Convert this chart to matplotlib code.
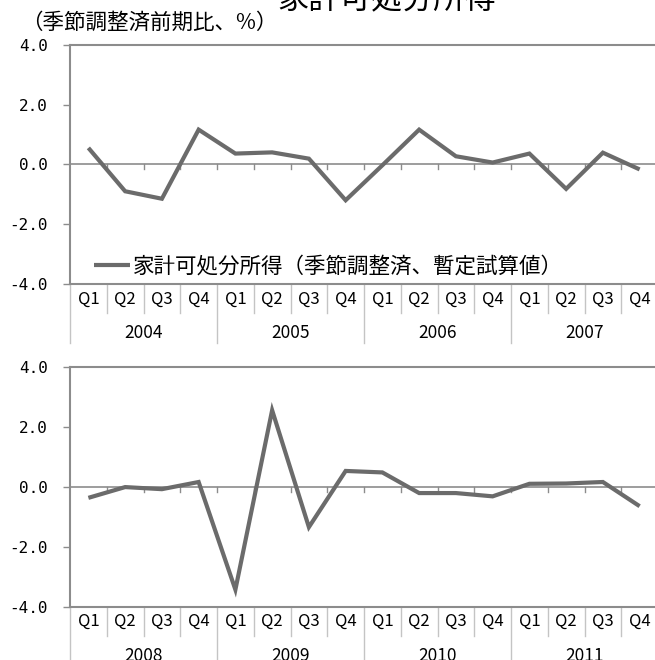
import matplotlib
matplotlib.use("Agg")
import matplotlib.pyplot as plt

plt.rcParams["font.family"] = ["Noto Sans CJK JP", "DejaVu Sans"]
plt.rcParams["axes.unicode_minus"] = False

QUARTERS = ["Q1", "Q2", "Q3", "Q4"]
YEARS_TOP = ["2004", "2005", "2006", "2007"]
YEARS_BOTTOM = ["2008", "2009", "2010", "2011"]

# quarterly change, % (2004Q1 .. 2007Q4)
income_top = [0.55, -0.90, -1.15, 1.16, 0.36, 0.40, 0.19, -1.20,
              -0.03, 1.16, 0.27, 0.06, 0.36, -0.82, 0.39, -0.17]
# 2008Q1 .. 2011Q4
income_bottom = [-0.36, 0.00, -0.07, 0.17, -3.43, 2.57, -1.34, 0.54,
                 0.49, -0.20, -0.20, -0.31, 0.11, 0.12, 0.17, -0.64]

Y_TICKS = [-4.0, -2.0, 0.0, 2.0, 4.0]
LEGEND_LABEL = "家計可処分所得（季節調整済、暫定試算値）"

LINE_COLOR = "#6b6b6b"
AXIS_COLOR = "#8c8c8c"
SEP_COLOR = "#c4c4c4"


def draw_panel(ax, values, years, legend=False):
    xs = [i + 0.5 for i in range(len(values))]
    ax.plot(xs, values, color=LINE_COLOR, lw=3.0, solid_joinstyle="miter",
            solid_capstyle="butt", label=LEGEND_LABEL, zorder=3)
    ax.set_xlim(0, 16)
    ax.set_ylim(-4, 4)

    # zero axis with small category ticks
    ax.axhline(0, color=AXIS_COLOR, lw=1.2, zorder=2)
    for k in range(1, 16):
        ax.plot([k, k], [0, -0.17], color=AXIS_COLOR, lw=1.0, zorder=2)

    ax.set_yticks(Y_TICKS)
    ax.set_yticklabels([f"{v:.1f}" for v in Y_TICKS], fontsize=11.5,
                       family="DejaVu Sans Mono")
    ax.tick_params(axis="y", length=5, width=1.0, color=AXIS_COLOR, pad=11)
    ax.set_xticks([])

    for side in ["left", "top", "bottom"]:
        ax.spines[side].set_color(AXIS_COLOR)
        ax.spines[side].set_linewidth(1.5)
    ax.spines["right"].set_visible(False)

    # category table under the plot
    tr = ax.get_xaxis_transform()
    for i in range(16):
        ax.text(i + 0.5, -0.063, QUARTERS[i % 4], transform=tr,
                ha="center", va="center", fontsize=12, clip_on=False)
    for k in range(1, 16):
        if k % 4:
            ax.plot([k, k], [0, -0.121], transform=tr, color=SEP_COLOR,
                    lw=1.0, clip_on=False)
    for k in range(0, 17, 4):
        ax.plot([k, k], [0, -0.247], transform=tr, color=SEP_COLOR,
                lw=1.0, clip_on=False)
    for j, yr in enumerate(years):
        ax.text(j * 4 + 2, -0.206, yr, transform=tr, ha="center",
                va="center", fontsize=12.5, clip_on=False)

    if legend:
        ax.legend(loc="center left", bbox_to_anchor=(0.04, 0.075),
                  frameon=False, fontsize=15.5, handlelength=1.7,
                  handletextpad=0.15, borderpad=0, borderaxespad=0)


fig = plt.figure(figsize=(6.55, 6.60), dpi=100)
ax_top = fig.add_axes([0.1069, 0.5697, 0.8977, 0.3626])
ax_bot = fig.add_axes([0.1069, 0.0808, 0.8977, 0.3624])

draw_panel(ax_top, income_top, YEARS_TOP, legend=True)
draw_panel(ax_bot, income_bottom, YEARS_BOTTOM)

fig.text(0.591, 0.999, "家計可処分所得", ha="center", va="center",
         fontsize=22.5)
fig.text(0.032, 0.965, "（季節調整済前期比、%）", ha="left", va="center",
         fontsize=15.5)

fig.savefig("out.png", dpi=100)
